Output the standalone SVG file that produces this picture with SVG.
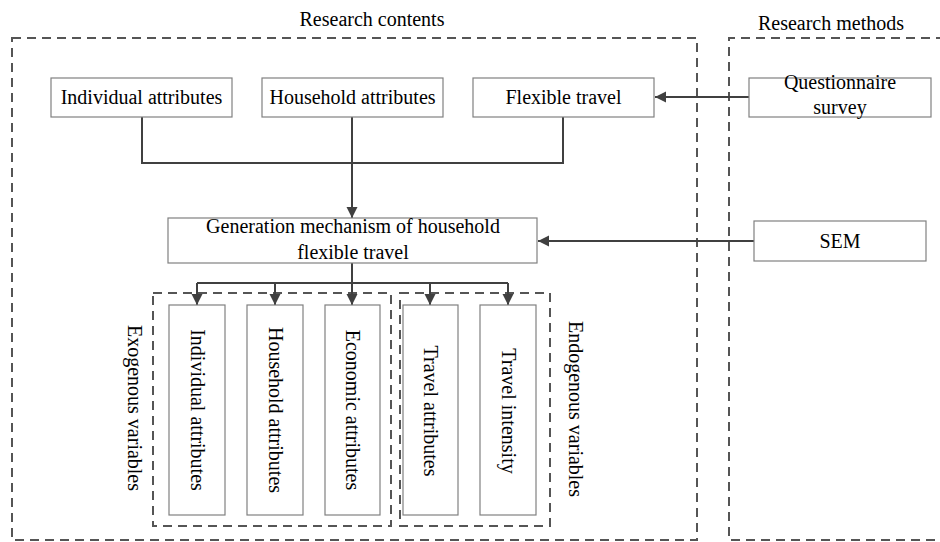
<svg xmlns="http://www.w3.org/2000/svg" width="940" height="542" viewBox="0 0 940 542">
<defs>
<marker id="arr" markerUnits="userSpaceOnUse" markerWidth="12" markerHeight="12" refX="11" refY="5.5" orient="auto">
<path d="M0,0 L11,5.5 L0,11 z" fill="#404040"/>
</marker>
<style>
text{font-family:"Liberation Serif","Times New Roman",serif;font-size:20px;fill:#000;}
.box{fill:#fff;stroke:#808080;stroke-width:1.2;}
.dash{fill:none;stroke:#555;stroke-width:2;stroke-dasharray:9 6;}
.con{fill:none;stroke:#404040;stroke-width:2;}
.mid{text-anchor:middle;}
</style>
</defs>
<rect width="940" height="542" fill="#fff"/>
<g id="research-contents">
<rect class="dash" x="12" y="38" width="685" height="502"/>
<text class="mid" x="372" y="26">Research contents</text>
</g>
<g id="research-methods">
<path class="dash" d="M945 38 H729 V540 H945"/>
<text class="mid" x="831" y="30">Research methods</text>
</g>
<g id="exogenous-group">
<rect class="dash" x="153" y="293" width="238" height="233"/>
<text class="mid" transform="translate(128 408) rotate(90)">Exogenous variables</text>
</g>
<g id="endogenous-group">
<rect class="dash" x="400" y="293" width="150" height="233"/>
<text class="mid" transform="translate(569 409) rotate(90)">Endogenous variables</text>
</g>
<g id="connectors">
<path class="con" d="M142 117 V163 H352"/>
<path class="con" d="M563 117 V163 H352"/>
<path class="con" d="M352 117 V218" marker-end="url(#arr)"/>
<path class="con" d="M749 97 H655" marker-end="url(#arr)"/>
<path class="con" d="M754 241 H538" marker-end="url(#arr)"/>
<path class="con" d="M352 263 V283"/>
<path class="con" d="M197 283 H508"/>
<path class="con" d="M197 283 V305" marker-end="url(#arr)"/>
<path class="con" d="M275 283 V305" marker-end="url(#arr)"/>
<path class="con" d="M352 283 V305" marker-end="url(#arr)"/>
<path class="con" d="M430 283 V305" marker-end="url(#arr)"/>
<path class="con" d="M508 283 V305" marker-end="url(#arr)"/>
</g>
<g id="individual-attributes">
<rect class="box" x="51" y="78" width="181" height="39"/>
<text class="mid" x="141.5" y="104">Individual attributes</text>
</g>
<g id="household-attributes">
<rect class="box" x="262" y="78" width="181" height="39"/>
<text class="mid" x="352.5" y="104">Household attributes</text>
</g>
<g id="flexible-travel">
<rect class="box" x="473" y="78" width="181" height="39"/>
<text class="mid" x="563.5" y="104">Flexible travel</text>
</g>
<g id="questionnaire-survey">
<rect class="box" x="749" y="78" width="182" height="39"/>
<text class="mid" x="840" y="89">Questionnaire</text>
<text class="mid" x="840" y="114">survey</text>
</g>
<g id="generation-mechanism">
<rect class="box" x="168" y="218" width="369" height="45"/>
<text class="mid" x="353" y="233">Generation mechanism of household</text>
<text class="mid" x="353" y="259">flexible travel</text>
</g>
<g id="sem">
<rect class="box" x="754" y="221" width="172" height="40"/>
<text class="mid" x="840" y="248">SEM</text>
</g>
<g id="var-individual">
<rect class="box" x="169" y="305" width="56" height="210"/>
<text class="mid" transform="translate(191 410) rotate(90)">Individual attributes</text>
</g>
<g id="var-household">
<rect class="box" x="247" y="305" width="56" height="210"/>
<text class="mid" transform="translate(269 410) rotate(90)">Household attributes</text>
</g>
<g id="var-economic">
<rect class="box" x="325" y="305" width="55" height="210"/>
<text class="mid" transform="translate(346 410) rotate(90)">Economic attributes</text>
</g>
<g id="var-travel-attributes">
<rect class="box" x="403" y="305" width="55" height="210"/>
<text class="mid" transform="translate(424 411) rotate(90)">Travel attributes</text>
</g>
<g id="var-travel-intensity">
<rect class="box" x="480" y="305" width="56" height="210"/>
<text class="mid" transform="translate(502 411) rotate(90)">Travel intensity</text>
</g>
</svg>
